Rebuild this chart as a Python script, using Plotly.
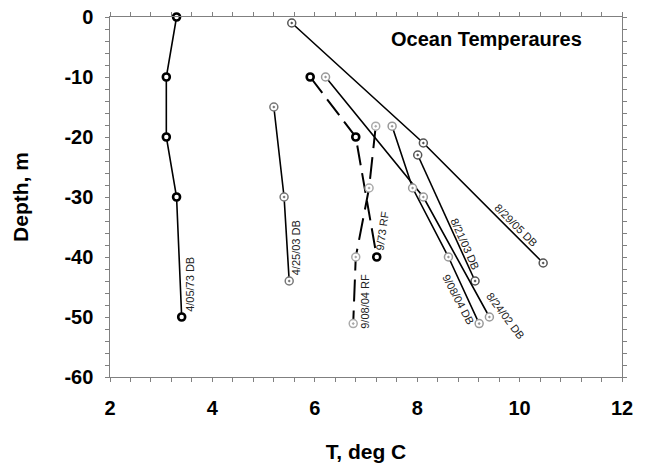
import plotly.graph_objects as go

# ---- data ----
t_040573_db = [3.3, 3.1, 3.1, 3.3, 3.4]
d_040573_db = [0, -10, -20, -30, -50]

t_042503_db = [5.2, 5.4, 5.5]
d_042503_db = [-15, -30, -44]

t_082905_db = [5.55, 8.12, 10.46]
d_082905_db = [-1, -21, -41]

t_082103_db = [8.01, 9.13]
d_082103_db = [-23, -44]

t_082402_db = [6.21, 8.12, 9.41]
d_082402_db = [-10, -30, -50]

t_090804_db = [7.51, 7.91, 8.61, 9.21]
d_090804_db = [-18.2, -28.5, -40, -51.1]

t_0973_rf = [5.91, 6.8, 7.21]
d_0973_rf = [-10, -20, -40]

t_090804_rf = [7.19, 7.06, 6.8, 6.75]
d_090804_rf = [-18.2, -28.5, -40, -51.1]

label_texts = ["4/05/73 DB", "4/25/03 DB", "8/29/05 DB", "8/21/03 DB",
               "8/24/02 DB", "9/08/04 DB", "9/73 RF", "9/08/04 RF"]
label_x = [3.56, 5.65, 9.93, 8.93, 9.73, 8.80, 7.31, 6.98]
label_y = [-44.5, -38.4, -34.6, -37.9, -49.8, -47.0, -35.6, -47.3]
label_angle = [-90, -90, 45, 66, 53, 62, -82, -90]

x_major = [2, 4, 6, 8, 10, 12]
x_major_labels = ["2", "4", "6", "8", "10", "12"]
y_major = [0, -10, -20, -30, -40, -50, -60]
y_major_labels = ["0", "-10", "-20", "-30", "-40", "-50", "-60"]
x_minor_step = 0.4
y_minor_step = 2

FONT = "Liberation Sans, Arial, sans-serif"

black_marker = dict(symbol="circle", size=7, color="white",
                    line=dict(color="black", width=2.6))
def dot_marker(c):
    return dict(symbol="circle-dot", size=8, color="white",
                line=dict(color=c, width=1.5))

fig = go.Figure()
series = [
    (t_040573_db, d_040573_db, dict(color="black", width=1.6), black_marker),
    (t_042503_db, d_042503_db, dict(color="black", width=1.6), dot_marker("#777777")),
    (t_082905_db, d_082905_db, dict(color="black", width=1.6), dot_marker("#555555")),
    (t_082103_db, d_082103_db, dict(color="black", width=1.6), dot_marker("#555555")),
    (t_082402_db, d_082402_db, dict(color="black", width=1.6), dot_marker("#999999")),
    (t_090804_db, d_090804_db, dict(color="black", width=1.6), dot_marker("#999999")),
    (t_0973_rf, d_0973_rf, dict(color="black", width=2, dash="20px,8px"), black_marker),
    (t_090804_rf, d_090804_rf, dict(color="black", width=2, dash="22px,9px"), dot_marker("#aaaaaa")),
]
for tx, dy, ln, mk in series:
    fig.add_trace(go.Scatter(x=tx, y=dy, mode="lines+markers", line=ln,
                             marker=mk, showlegend=False, hoverinfo="skip",
                             cliponaxis=False))

for txt, lx, ly, ang in zip(label_texts, label_x, label_y, label_angle):
    fig.add_annotation(x=lx, y=ly, text=txt, textangle=ang, showarrow=False,
                       font=dict(family=FONT, size=11, color="#222222"),
                       xanchor="center", yanchor="middle")

fig.add_annotation(xref="x domain", yref="y domain",
                   x=(486 - 110) / 512, y=1 - (39 - 17) / 360,
                   xanchor="center", yanchor="middle",
                   text="Ocean Temperaures", showarrow=False,
                   font=dict(family=FONT, size=20, color="black", weight="bold"))

def ticks_with_minor(lo, hi, step, majors, labels, suffix=""):
    n = int(round((hi - lo) / step))
    vals = [round(lo + i * step, 6) for i in range(n + 1)]
    lab = dict(zip(majors, labels))
    texts = []
    for v in vals:
        key = None
        for m in majors:
            if abs(m - v) < 1e-6:
                key = m
        texts.append(lab[key] + suffix if key is not None else "")
    return vals, texts

xv, xt = ticks_with_minor(2, 12, x_minor_step, x_major, x_major_labels)
yv, yt = ticks_with_minor(-60, 0, y_minor_step, y_major, y_major_labels, suffix="\u00a0")

axis_common = dict(
    showline=True, linecolor="#808080", linewidth=1.2, mirror="ticks",
    ticks="outside", ticklen=4, tickcolor="#808080", tickwidth=1,
    showgrid=False, zeroline=False, automargin=False,
    tickmode="array",
    tickfont=dict(family=FONT, size=20, color="black", weight="bold"),
)
fig.update_xaxes(range=[2, 12], tickvals=xv, ticktext=xt,
                 title=dict(text="T, deg C", font=dict(family=FONT, size=21, color="black", weight="bold"),
                            standoff=26),
                 ticklabelstandoff=9,
                 **axis_common)
fig.update_yaxes(range=[-60, 0], tickvals=yv, ticktext=yt,
                 title=dict(text="Depth, m", font=dict(family=FONT, size=21, color="black", weight="bold"),
                            standoff=30),
                 ticklabelstandoff=2,
                 **axis_common)

fig.update_layout(width=648, height=468, paper_bgcolor="white", plot_bgcolor="white",
                  margin=dict(l=110, r=26, t=17, b=91), showlegend=False)

fig.write_html("out.html", config={"displayModeBar": False},
               post_script="document.body.style.margin='0';")
